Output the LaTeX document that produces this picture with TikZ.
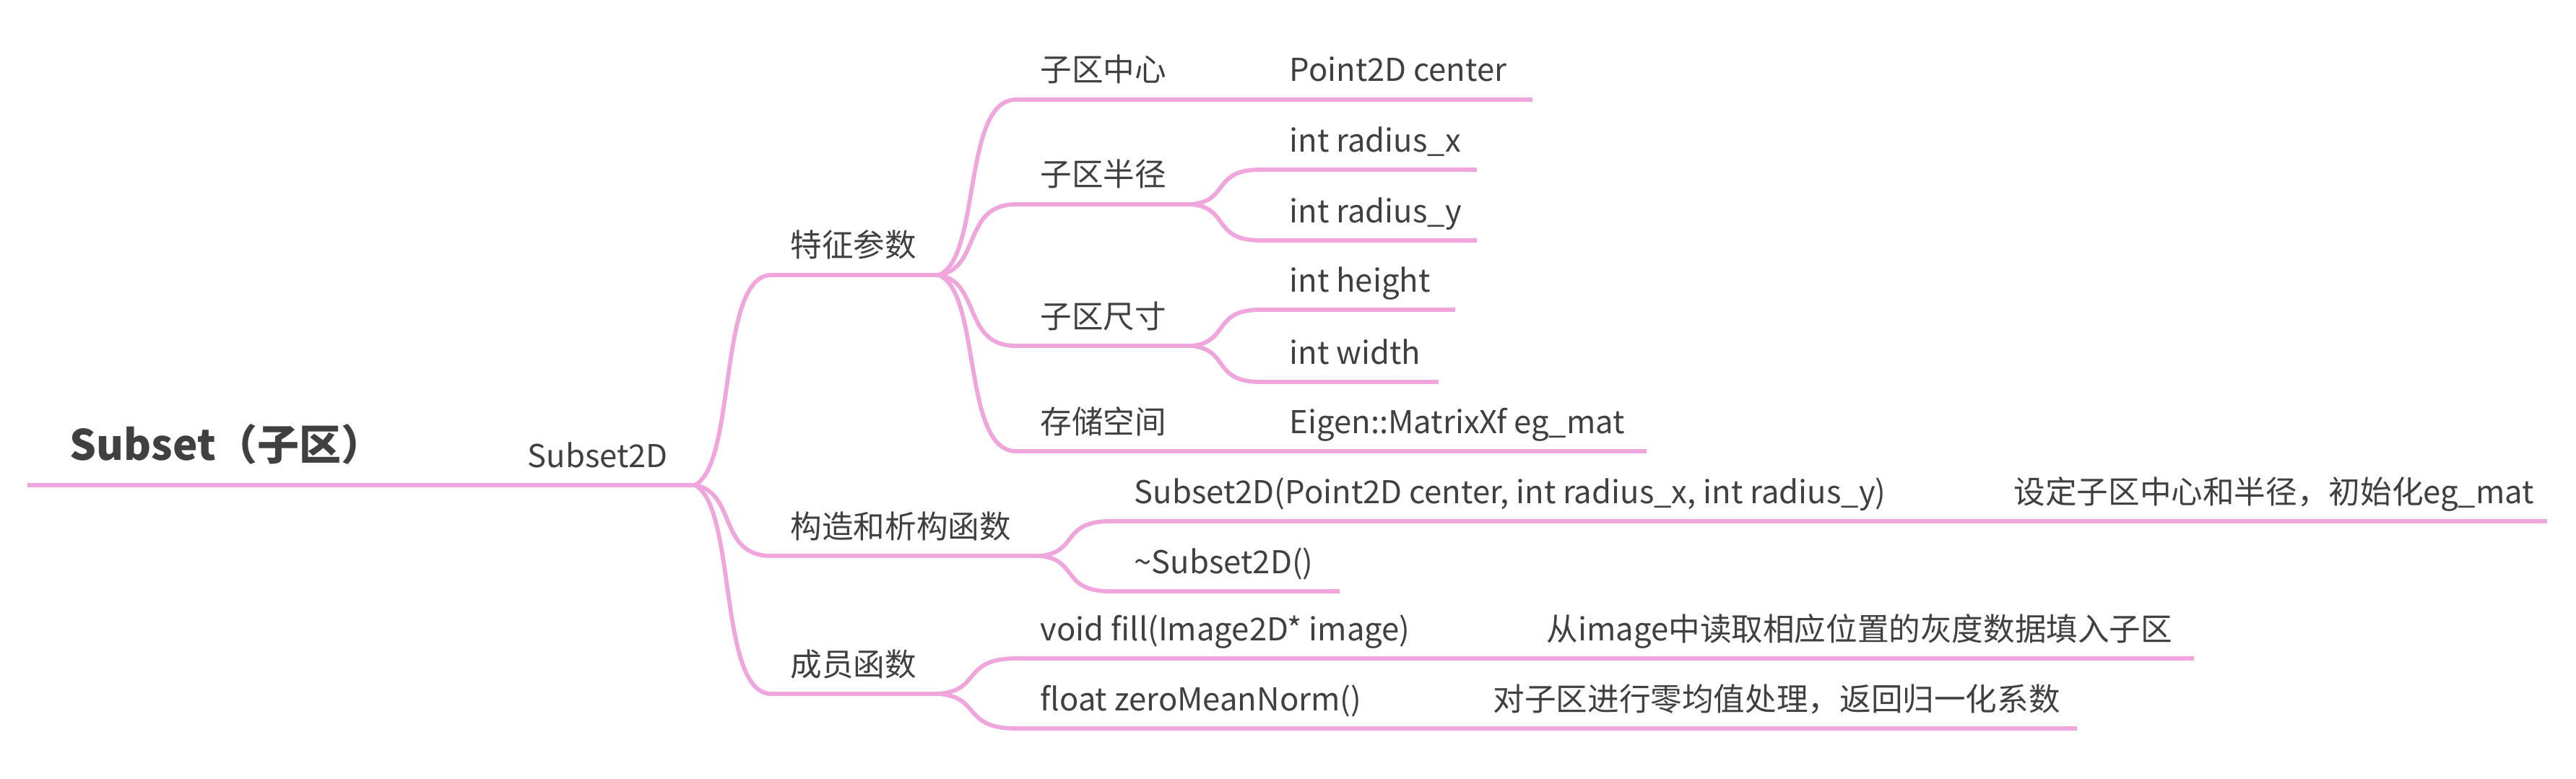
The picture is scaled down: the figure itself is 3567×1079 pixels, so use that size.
\documentclass[tikz,border=0pt]{standalone}
\usepackage{fontspec}
\setmainfont{Noto Sans CJK SC}
\usetikzlibrary{calc}
\definecolor{linepink}{HTML}{F0A6DC}
\definecolor{txt}{HTML}{404040}
\begin{document}
\begin{tikzpicture}[x=0.01cm,y=-0.01cm,
  lbl/.style={anchor=base west, inner sep=0pt, text=txt, font=\fontsize{12.4pt}{15pt}\selectfont},
  rootlbl/.style={anchor=base west, inner sep=0pt, text=txt, font=\fontsize{16.5pt}{20pt}\selectfont\bfseries},
  uline/.style={draw=linepink, line width=0.058cm},
  rootline/.style={draw=linepink, line width=0.062cm},
  branch/.style={draw=linepink, line width=0.058cm, to path={let \p1=(\tikztostart), \p2=(\tikztotarget) in .. controls ({\x1+0.55*(\x2-\x1)},{\y1+0.1*(\y2-\y1)}) and ({\x1+0.3*(\x2-\x1)},{\y2}) .. (\tikztotarget)}}
]
\fill[white] (0,0) rectangle (3567,1079);
\useasboundingbox (0,0) rectangle (3567,1079);

% coordinates
\coordinate (root-s) at (38,672);
\coordinate (s2d-e) at (962,672);
\coordinate (p1-s) at (1068,381); \coordinate (p1-e) at (1300,381);
\coordinate (p2-s) at (1068,770); \coordinate (p2-e) at (1440,770);
\coordinate (p3-s) at (1068,961); \coordinate (p3-e) at (1300,961);
\coordinate (c11-s) at (1407,138); \coordinate (c11-e) at (1747,138);
\coordinate (l11-e) at (2122,138);
\coordinate (c12-s) at (1407,283); \coordinate (c12-e) at (1650,283);
\coordinate (l121-s) at (1745,235); \coordinate (l121-e) at (2045,235);
\coordinate (l122-s) at (1745,333); \coordinate (l122-e) at (2045,333);
\coordinate (c13-s) at (1407,479); \coordinate (c13-e) at (1650,479);
\coordinate (l131-s) at (1745,429); \coordinate (l131-e) at (2015,429);
\coordinate (l132-s) at (1745,529); \coordinate (l132-e) at (1992,529);
\coordinate (c14-s) at (1407,625); \coordinate (c14-e) at (1747,625);
\coordinate (l14-e) at (2280,625);
\coordinate (c21-s) at (1537,722); \coordinate (c21-e) at (2700,722);
\coordinate (l21-e) at (3527,722);
\coordinate (c22-s) at (1537,819); \coordinate (c22-e) at (1855,819);
\coordinate (c31-s) at (1407,912); \coordinate (c31-e) at (2100,912);
\coordinate (l31-e) at (3038,912);
\coordinate (c32-s) at (1407,1009); \coordinate (c32-e) at (2030,1009);
\coordinate (l32-e) at (2876,1009);

% lines
\draw[rootline] (root-s) -- (s2d-e);
\draw[uline] (p1-s) -- (p1-e);
\draw[uline] (p2-s) -- (p2-e);
\draw[uline] (p3-s) -- (p3-e);
\draw[uline] (c11-s) -- (c11-e) -- (l11-e);
\draw[uline] (c12-s) -- (c12-e);
\draw[uline] (l121-s) -- (l121-e);
\draw[uline] (l122-s) -- (l122-e);
\draw[uline] (c13-s) -- (c13-e);
\draw[uline] (l131-s) -- (l131-e);
\draw[uline] (l132-s) -- (l132-e);
\draw[uline] (c14-s) -- (c14-e) -- (l14-e);
\draw[uline] (c21-s) -- (c21-e) -- (l21-e);
\draw[uline] (c22-s) -- (c22-e);
\draw[uline] (c31-s) -- (c31-e) -- (l31-e);
\draw[uline] (c32-s) -- (c32-e) -- (l32-e);

% connectors
\foreach \a/\b in {s2d-e/p1-s, s2d-e/p2-s, s2d-e/p3-s,
  p1-e/c11-s, p1-e/c12-s, p1-e/c13-s, p1-e/c14-s,
  c12-e/l121-s, c12-e/l122-s, c13-e/l131-s, c13-e/l132-s,
  p2-e/c21-s, p2-e/c22-s, p3-e/c31-s, p3-e/c32-s}
  \draw[branch] (\a) to (\b);

% texts
\node[rootlbl] (root) at (96,637) {Subset（子区）};
\node[lbl] (s2d) at (730,647) {Subset2D};
\node[lbl] (p1) at (1094,355) {特征参数};
\node[lbl] (p2) at (1094,745) {构造和析构函数};
\node[lbl] (p3) at (1094,936) {成员函数};
\node[lbl] (c11) at (1440,113) {子区中心};
\node[lbl] (l11) at (1785,113) {Point2D center};
\node[lbl] (c12) at (1440,258) {子区半径};
\node[lbl] (l121) at (1785,210) {int radius\_x};
\node[lbl] (l122) at (1785,308) {int radius\_y};
\node[lbl] (c13) at (1440,454) {子区尺寸};
\node[lbl] (l131) at (1785,404) {int height};
\node[lbl] (l132) at (1785,504) {int width};
\node[lbl] (c14) at (1440,600) {存储空间};
\node[lbl] (l14) at (1785,600) {Eigen::MatrixXf eg\_mat};
\node[lbl] (c21) at (1570,697) {Subset2D(Point2D center, int radius\_x, int radius\_y)};
\node[lbl] (l21) at (2788,697) {设定子区中心和半径，初始化eg\_mat};
\node[lbl] (c22) at (1570,794) {\textasciitilde Subset2D()};
\node[lbl] (c31) at (1440,887) {void fill(Image2D* image)};
\node[lbl] (l31) at (2141,887) {从image中读取相应位置的灰度数据填入子区};
\node[lbl] (c32) at (1440,984) {float zeroMeanNorm()};
\node[lbl] (l32) at (2067,984) {对子区进行零均值处理，返回归一化系数};
\end{tikzpicture}
\end{document}
